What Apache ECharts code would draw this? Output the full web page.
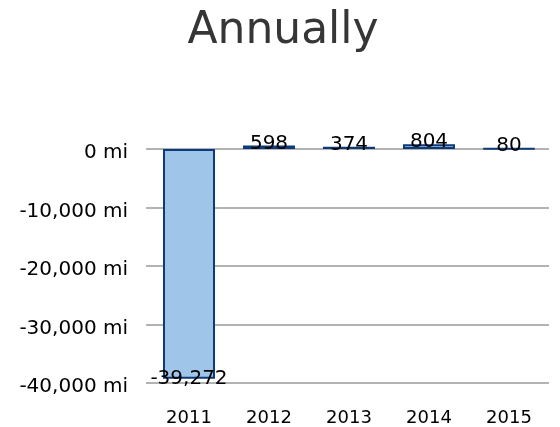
<!DOCTYPE html>
<html>
<head>
<meta charset="utf-8">
<script src="https://cdn.jsdelivr.net/npm/echarts@6/dist/echarts.min.js"></script>
<style>html,body{margin:0;padding:0;background:#fff}#c{width:560px;height:427px}</style>
</head>
<body>
<div id="c"></div>
<script>
var categories = ['2011', '2012', '2013', '2014', '2015'];
var values = [-39272, 598, 374, 804, 80];
var yTicks = [-40000, -30000, -20000, -10000, 0];

var chart = echarts.init(document.getElementById('c'));
var font = 'DejaVu Sans';
var data = values.map(function (v) {
  return {
    value: v,
    label: v < 0 ? { position: 'bottom', distance: -10 } : { position: 'top', distance: -8 }
  };
});
chart.setOption({
  animation: false,
  title: {
    text: 'Annually', left: 278, textAlign: 'center', top: 5,
    textStyle: { fontFamily: font, fontSize: 44, fontWeight: 'normal', color: '#363636' }
  },
  grid: { left: 149, right: 11, top: 149, bottom: 44, containLabel: false },
  xAxis: {
    type: 'category', data: categories,
    axisLine: { show: false }, axisTick: { show: false },
    axisLabel: { fontFamily: font, fontSize: 18, color: '#000', margin: 26 }
  },
  yAxis: {
    type: 'value', min: yTicks[0], max: yTicks[yTicks.length - 1], interval: 10000,
    axisLine: { show: false },
    axisTick: { show: true, length: 3, lineStyle: { color: '#b3b3b3', width: 2 } },
    splitLine: { lineStyle: { color: '#b3b3b3', width: 2 } },
    axisLabel: {
      fontFamily: font, fontSize: 20, color: '#000', margin: 21,
      verticalAlign: 'top', lineHeight: 8,
      formatter: function (v) { return v.toLocaleString('en-US') + ' mi'; }
    }
  },
  series: [{
    type: 'bar', data: data, barWidth: 52, clip: false,
    itemStyle: { color: '#9fc5e8', borderColor: '#0d3a78', borderWidth: 2 },
    label: {
      show: true, fontFamily: font, fontSize: 20, color: '#000',
      formatter: function (p) { return p.value.toLocaleString('en-US'); }
    }
  }]
});
</script>
</body>
</html>
